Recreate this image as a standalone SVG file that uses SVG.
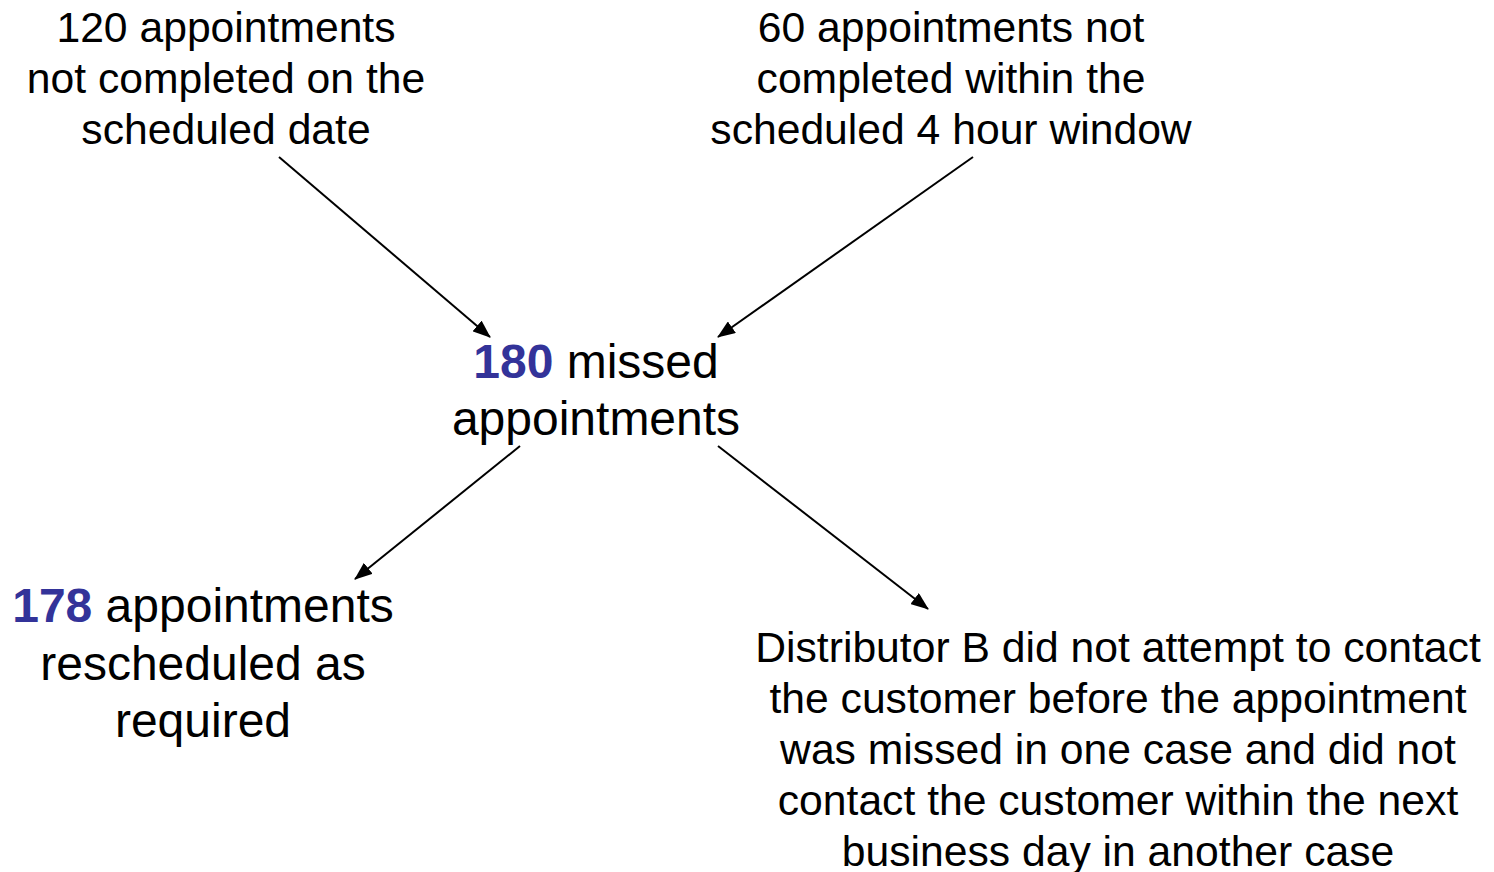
<svg xmlns="http://www.w3.org/2000/svg" width="1494" height="872" viewBox="0 0 1494 872">
  <defs>
    <marker id="arrowhead" viewBox="0 0 18 14" refX="17" refY="7" markerWidth="18" markerHeight="14" markerUnits="userSpaceOnUse" orient="auto">
      <path d="M0,0 L18,7 L0,14 z" fill="#000"/>
    </marker>
    <style>
      .lbl { font-family: "Liberation Sans", Arial, sans-serif; fill: #000; text-anchor: middle; }
      .sm { font-size: 42.67px; }
      .lg { font-size: 48px; }
      .num { fill: #333399; font-weight: bold; }
      .conn line { stroke: #000; stroke-width: 2; marker-end: url(#arrowhead); }
    </style>
  </defs>
  <rect width="1494" height="872" fill="#fff"/>

  <g id="connectors" class="conn">
    <line x1="279" y1="157" x2="490" y2="337"/>
    <line x1="973" y1="157" x2="718" y2="337"/>
    <line x1="520" y1="446" x2="355" y2="579"/>
    <line x1="718" y1="446" x2="928" y2="609"/>
  </g>

  <g id="not-on-date">
    <text class="lbl sm" x="226" y="42">120 appointments</text>
    <text class="lbl sm" x="226" y="93">not completed on the</text>
    <text class="lbl sm" x="226" y="144">scheduled date</text>
  </g>

  <g id="not-in-window">
    <text class="lbl sm" x="951" y="42">60 appointments not</text>
    <text class="lbl sm" x="951" y="93">completed within the</text>
    <text class="lbl sm" x="951" y="144">scheduled 4 hour window</text>
  </g>

  <g id="missed">
    <text class="lbl lg" x="596" y="378"><tspan class="num">180</tspan> missed</text>
    <text class="lbl lg" x="596" y="435">appointments</text>
  </g>

  <g id="rescheduled">
    <text class="lbl lg" x="203" y="622"><tspan class="num">178</tspan> appointments</text>
    <text class="lbl lg" x="203" y="680">rescheduled as</text>
    <text class="lbl lg" x="203" y="737">required</text>
  </g>

  <g id="no-contact">
    <text class="lbl sm" x="1118" y="662">Distributor B did not attempt to contact</text>
    <text class="lbl sm" x="1118" y="713">the customer before the appointment</text>
    <text class="lbl sm" x="1118" y="764">was missed in one case and did not</text>
    <text class="lbl sm" x="1118" y="815">contact the customer within the next</text>
    <text class="lbl sm" x="1118" y="866">business day in another case</text>
  </g>
</svg>
